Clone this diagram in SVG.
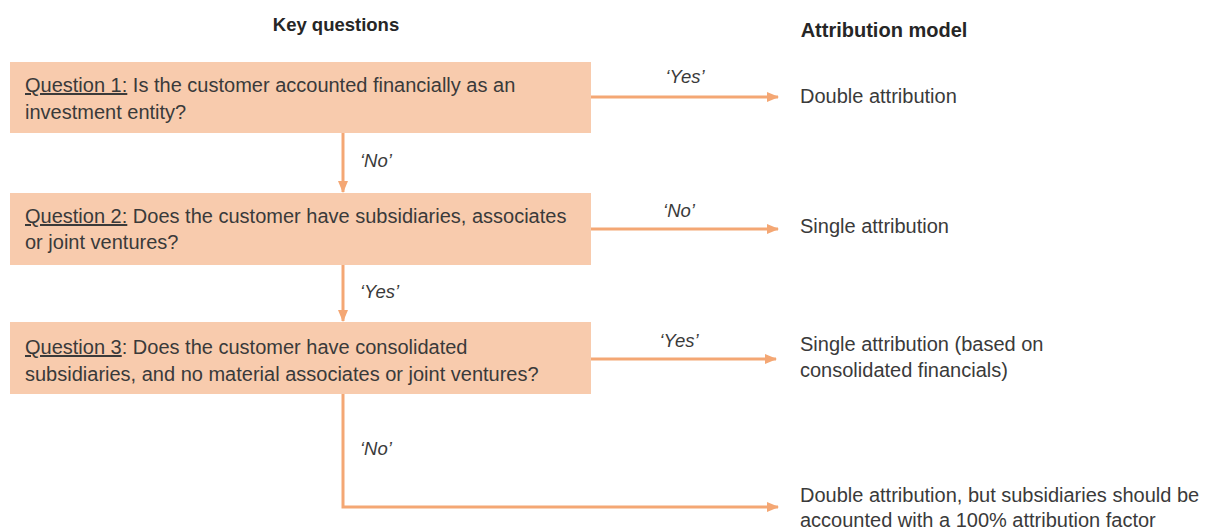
<svg xmlns="http://www.w3.org/2000/svg" width="1205" height="529" viewBox="0 0 1205 529">
<defs>
<marker id="ah" markerWidth="12" markerHeight="12" refX="11" refY="6" orient="auto" markerUnits="userSpaceOnUse">
<path d="M0,1 L12,6 L0,11 z" fill="#F4A774"/>
</marker>
<style>
.box{fill:#F8CBAD;}
.t{font-family:"Liberation Sans",Arial,sans-serif;font-size:20px;fill:#3a3a3a;}
.h{font-family:"Liberation Sans",Arial,sans-serif;font-size:18.5px;font-weight:bold;fill:#262626;}
.lbl{font-family:"Liberation Sans",Arial,sans-serif;font-size:18.5px;font-style:italic;fill:#3a3a3a;}
.c{fill:none;stroke:#F4A774;stroke-width:3;}
</style>
</defs>
<rect width="1205" height="529" fill="#ffffff"/>
<g id="headers">
<text class="h" x="336" y="31" text-anchor="middle">Key questions</text>
<text class="h" x="884" y="37" text-anchor="middle" style="font-size:20px">Attribution model</text>
</g>
<g id="q1">
<rect class="box" x="10" y="62" width="581" height="71"/>
<text class="t" x="25" y="92"><tspan text-decoration="underline">Question 1:</tspan> Is the customer accounted financially as an</text>
<text class="t" x="25" y="119">investment entity?</text>
</g>
<g id="q2">
<rect class="box" x="10" y="193" width="581" height="72"/>
<text class="t" x="25" y="223"><tspan text-decoration="underline">Question 2:</tspan> Does the customer have subsidiaries, associates</text>
<text class="t" x="25" y="249">or joint ventures?</text>
</g>
<g id="q3">
<rect class="box" x="10" y="322" width="581" height="72"/>
<text class="t" x="25" y="354"><tspan text-decoration="underline">Question 3</tspan>: Does the customer have consolidated</text>
<text class="t" x="25" y="381">subsidiaries, and no material associates or joint ventures?</text>
</g>
<g id="r1"><text class="t" x="800" y="103">Double attribution</text></g>
<g id="r2"><text class="t" x="800" y="233">Single attribution</text></g>
<g id="r3">
<text class="t" x="800" y="351">Single attribution (based on</text>
<text class="t" x="800" y="377">consolidated financials)</text>
</g>
<g id="r4">
<text class="t" x="800" y="502">Double attribution, but subsidiaries should be</text>
<text class="t" x="800" y="527">accounted with a 100% attribution factor</text>
</g>
<g id="connectors">
<line class="c" x1="591" y1="97" x2="778" y2="97" marker-end="url(#ah)"/>
<line class="c" x1="591" y1="229" x2="778" y2="229" marker-end="url(#ah)"/>
<line class="c" x1="591" y1="359" x2="776" y2="359" marker-end="url(#ah)"/>
<line class="c" x1="343" y1="133" x2="343" y2="192" marker-end="url(#ah)"/>
<line class="c" x1="343" y1="265" x2="343" y2="321" marker-end="url(#ah)"/>
<polyline class="c" points="343,394 343,507 778,507" marker-end="url(#ah)"/>
<text class="lbl" x="685" y="83" text-anchor="middle">‘Yes’</text>
<text class="lbl" x="679" y="217" text-anchor="middle">‘No’</text>
<text class="lbl" x="679" y="347" text-anchor="middle">‘Yes’</text>
<text class="lbl" x="360" y="167">‘No’</text>
<text class="lbl" x="360" y="298">‘Yes’</text>
<text class="lbl" x="360" y="455">‘No’</text>
</g>
</svg>
